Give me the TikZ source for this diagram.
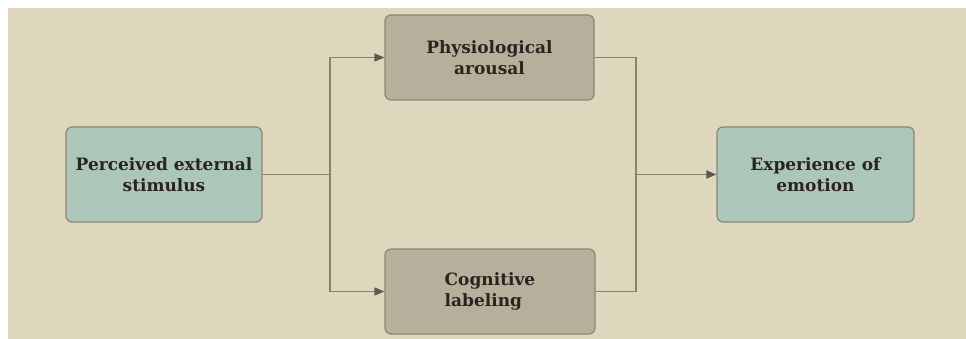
\documentclass[tikz,border=0pt]{standalone}
\usepackage{fontspec}
\setmainfont{DejaVu Serif}
\usetikzlibrary{arrows.meta}
\definecolor{bgbeige}{HTML}{DED7BE}
\definecolor{tealfill}{HTML}{ADC6BA}
\definecolor{greyfill}{HTML}{B6AF9B}
\definecolor{boxline}{HTML}{8C876F}
\definecolor{conline}{HTML}{8A8168}
\definecolor{tipcol}{HTML}{5E5850}
\definecolor{txtcol}{HTML}{2A2420}
\begin{document}
\begin{tikzpicture}[x=1pt,y=-1pt,
  box/.style={draw=boxline,line width=1.2pt,rounded corners=6pt,inner sep=0pt,
    font=\fontsize{17}{21}\selectfont\bfseries,text=txtcol,align=center},
  tealbox/.style={box,fill=tealfill},
  greybox/.style={box,fill=greyfill},
  conn/.style={draw=conline,line width=1.5pt},
  arr/.style={conn,-{Triangle[length=10pt,width=8pt,fill=tipcol,color=tipcol]}}]
\useasboundingbox (0,0) rectangle (966,339);
\fill[white] (0,0) rectangle (966,339);
\fill[bgbeige] (8,8) rectangle (966,339);
\node[tealbox,minimum width=196pt,minimum height=95pt] (stim) at (164,174.5) {Perceived external\\stimulus};
\node[greybox,minimum width=209pt,minimum height=85pt] (phys) at (489.5,57.5) {Physiological\\arousal};
\node[greybox,minimum width=210pt,minimum height=85pt] (cog) at (490,291.5) {\begin{tabular}{@{}l@{}}Cognitive\\labeling\end{tabular}};
\node[tealbox,minimum width=197pt,minimum height=95pt] (emo) at (815.5,174.5) {Experience of\\emotion};
\coordinate (split) at (330,174.5);
\coordinate (join) at (636,174.5);
\draw[conn] (stim.east) -- (split);
\draw[arr] (split) |- (phys.west);
\draw[arr] (split) |- (cog.west);
\draw[conn] (phys.east) -| (join);
\draw[conn] (cog.east) -| (join);
\draw[arr] (join) -- (emo.west);
\end{tikzpicture}
\end{document}
